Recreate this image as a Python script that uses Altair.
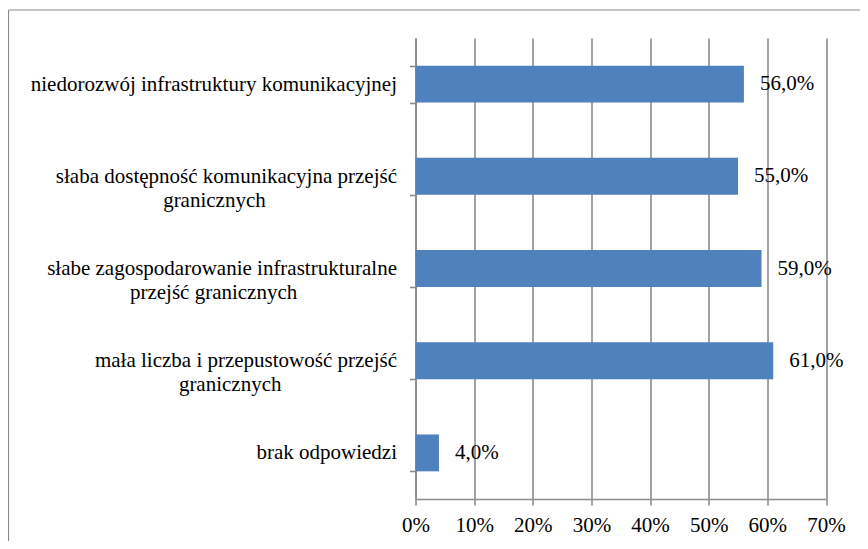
import altair as alt
import pandas as pd

# ---- data ----
categories = [
    "niedorozwój infrastruktury komunikacyjnej",
    "słaba dostępność komunikacyjna przejść\ngranicznych",
    "słabe zagospodarowanie infrastrukturalne\nprzejść granicznych",
    "mała liczba i przepustowość przejść\ngranicznych",
    "brak odpowiedzi",
]
values = [0.56, 0.55, 0.59, 0.61, 0.04]
x_ticks = [0, 0.1, 0.2, 0.3, 0.4, 0.5, 0.6, 0.7]

NBSP = "\u00a0"
ZWSP = "\u200b"  # keeps the padding from being trimmed


def center_lines(label, factor=0.92):
    """Pad shorter lines with no-break spaces so right-aligned lines look centred."""
    lines = label.split("\n")
    longest = max(len(l) for l in lines)
    out = []
    for l in lines:
        n = round((longest - len(l)) * factor)
        out.append(l + NBSP * n + ZWSP if n > 0 else l)
    return "\n".join(out)


labels = [center_lines(c) for c in categories]
df = pd.DataFrame({"kategoria": labels, "wartosc": values})

FONT = "'Liberation Serif', 'Times New Roman', serif"
FSIZE = 21
GRAY = "#8c8c8c"

y_enc = alt.Y(
    "kategoria:N",
    sort=labels,
    scale=alt.Scale(paddingInner=0.6, paddingOuter=0.3),
    axis=alt.Axis(
        title=None,
        labelExpr="split(datum.label, '\\n')",
        labelLineHeight=24,
        labelLimit=440,
        labelPadding=13,
        grid=False,
        ticks=True,
        tickBand="extent",
    ),
)
x_enc = alt.X(
    "wartosc:Q",
    scale=alt.Scale(domain=[0, 0.7], nice=False),
    axis=alt.Axis(
        title=None,
        values=x_ticks,
        format="%",
        grid=True,
        labelPadding=9,
        labelFlush=False,
        labelOverlap=False,
    ),
)

base = alt.Chart(df)

bars = base.mark_bar(color="#4f81bd").encode(x=x_enc, y=y_enc)

text = base.transform_calculate(
    etykieta="replace(format(datum.wartosc, '.1%'), '.', ',')"
).mark_text(
    align="left", baseline="middle", dx=16, font=FONT, fontSize=FSIZE, color="black"
).encode(x="wartosc:Q", y=alt.Y("kategoria:N", sort=labels), text="etykieta:N")

frame_data = alt.Data(values=[{"f": 1}])
frame_left = alt.Chart(frame_data).mark_rule(color=GRAY, strokeWidth=1.2).encode(
    x=alt.value(-407), y=alt.value(-28), y2=alt.value(503)
)
frame_top = alt.Chart(frame_data).mark_rule(color=GRAY, strokeWidth=1.2).encode(
    x=alt.value(-407), x2=alt.value(445), y=alt.value(-28)
)

chart = (
    alt.layer(frame_left, frame_top, bars, text)
    .properties(
        width=410.5,
        height=461,
        autosize=alt.AutoSizeParams(type="none"),
        padding={"left": 407.5, "top": 30, "right": 34, "bottom": 42},
    )
    .configure_axis(
        labelFont=FONT,
        labelFontSize=FSIZE,
        labelColor="black",
        domainColor=GRAY,
        tickColor=GRAY,
        gridColor=GRAY,
        domainWidth=1.6,
        tickWidth=1.6,
        gridWidth=1.6,
        tickSize=6,
    )
    .configure_text(font=FONT)
    .configure_view(stroke="transparent")
)

chart.save("out.html", embed_options={"renderer": "svg", "actions": False})
